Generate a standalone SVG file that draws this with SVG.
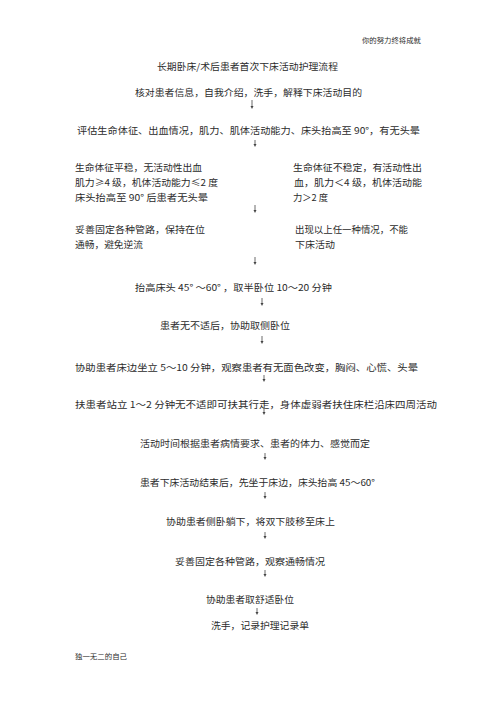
<svg xmlns="http://www.w3.org/2000/svg" width="496" height="702" viewBox="0 0 496 702">
<defs>
<style>
text{font-family:"Noto Sans CJK SC","Liberation Serif",serif;font-size:9.2px;fill:#2b2b2b;}
.small{font-size:7px;}
.arr{stroke:#444;stroke-width:0.8;fill:none;}
.head{fill:#444;}
</style>
</defs>
<rect width="496" height="702" fill="#fff"/>
<g id="header"><text class="small" x="362" y="42.5" textLength="59" lengthAdjust="spacingAndGlyphs">你的努力终将成就</text></g>
<g id="title"><text x="157" y="69.5" textLength="181" lengthAdjust="spacingAndGlyphs">长期卧床/术后患者首次下床活动护理流程</text></g>
<g id="n1"><text x="135" y="95.5" textLength="227" lengthAdjust="spacingAndGlyphs">核对患者信息，自我介绍，洗手，解释下床活动目的</text></g>
<g id="n2"><text x="77" y="133.5" textLength="343" lengthAdjust="spacingAndGlyphs">评估生命体征、出血情况，肌力、肌体活动能力、床头抬高至 90°，有无头晕</text></g>
<g id="n3a">
<text x="75" y="170.5" textLength="127" lengthAdjust="spacingAndGlyphs">生命体征平稳，无活动性出血</text>
<text x="75" y="185.5" textLength="143" lengthAdjust="spacingAndGlyphs">肌力≥4 级，机体活动能力≤2 度</text>
<text x="75" y="200.5" textLength="133" lengthAdjust="spacingAndGlyphs">床头抬高至 90° 后患者无头晕</text>
</g>
<g id="n3b">
<text x="293" y="170.5" textLength="129" lengthAdjust="spacingAndGlyphs">生命体征不稳定，有活动性出</text>
<text x="294" y="185.5" textLength="128" lengthAdjust="spacingAndGlyphs">血，肌力＜4 级，机体活动能</text>
<text x="293" y="200.5" textLength="35" lengthAdjust="spacingAndGlyphs">力＞2 度</text>
</g>
<g id="n4a">
<text x="75" y="232.5" textLength="130" lengthAdjust="spacingAndGlyphs">妥善固定各种管路，保持在位</text>
<text x="75" y="247.5" textLength="68" lengthAdjust="spacingAndGlyphs">通畅，避免逆流</text>
</g>
<g id="n4b">
<text x="295" y="232.5" textLength="113" lengthAdjust="spacingAndGlyphs">出现以上任一种情况，不能</text>
<text x="295" y="247.5" textLength="40" lengthAdjust="spacingAndGlyphs">下床活动</text>
</g>
<g id="n5"><text x="135" y="290.5" textLength="197" lengthAdjust="spacingAndGlyphs">抬高床头 45° ～60° ，取半卧位 10～20 分钟</text></g>
<g id="n6"><text x="160" y="328.5" textLength="130" lengthAdjust="spacingAndGlyphs">患者无不适后，协助取侧卧位</text></g>
<g id="n7"><text x="75" y="370.5" textLength="343" lengthAdjust="spacingAndGlyphs">协助患者床边坐立 5～10 分钟，观察患者有无面色改变，胸闷、心慌、头晕</text></g>
<g id="n8"><text x="75" y="407.5" textLength="362" lengthAdjust="spacingAndGlyphs">扶患者站立 1～2 分钟无不适即可扶其行走，身体虚弱者扶住床栏沿床四周活动</text></g>
<g id="n9"><text x="140" y="446.5" textLength="230" lengthAdjust="spacingAndGlyphs">活动时间根据患者病情要求、患者的体力、感觉而定</text></g>
<g id="n10"><text x="140" y="485.5" textLength="235" lengthAdjust="spacingAndGlyphs">患者下床活动结束后，先坐于床边，床头抬高 45～60°</text></g>
<g id="n11"><text x="166" y="524.5" textLength="169" lengthAdjust="spacingAndGlyphs">协助患者侧卧躺下，将双下肢移至床上</text></g>
<g id="n12"><text x="175" y="564.5" textLength="150" lengthAdjust="spacingAndGlyphs">妥善固定各种管路，观察通畅情况</text></g>
<g id="n13"><text x="206" y="602.5" textLength="88" lengthAdjust="spacingAndGlyphs">协助患者取舒适卧位</text></g>
<g id="n14"><text x="211" y="628.5" textLength="98" lengthAdjust="spacingAndGlyphs">洗手，记录护理记录单</text></g>
<g id="footer"><text class="small" x="75" y="658.5" textLength="52" lengthAdjust="spacingAndGlyphs">独一无二的自己</text></g>
<g id="connectors">
<path class="arr" d="M252 100V106"/><path class="head" d="M250.5 106h3l-1.5 3z"/>
<path class="arr" d="M255 140V144"/><path class="head" d="M253.5 144h3l-1.5 3z"/>
<path class="arr" d="M255 205V210"/><path class="head" d="M253.5 210h3l-1.5 3z"/>
<path class="arr" d="M255 257V262"/><path class="head" d="M253.5 262h3l-1.5 3z"/>
<path class="arr" d="M262 298V303"/><path class="head" d="M260.5 303h3l-1.5 3z"/>
<path class="arr" d="M262 336V341"/><path class="head" d="M260.5 341h3l-1.5 3z"/>
<path class="arr" d="M264 375V379"/><path class="head" d="M262.5 379h3l-1.5 3z"/>
<path class="arr" d="M264 408V412"/><path class="head" d="M262.5 412h3l-1.5 3z"/>
<path class="arr" d="M265 453V457"/><path class="head" d="M263.5 457h3l-1.5 3z"/>
<path class="arr" d="M265 492V496"/><path class="head" d="M263.5 496h3l-1.5 3z"/>
<path class="arr" d="M265 532V536"/><path class="head" d="M263.5 536h3l-1.5 3z"/>
<path class="arr" d="M265 570V574"/><path class="head" d="M263.5 574h3l-1.5 3z"/>
<path class="arr" d="M257 608V612"/><path class="head" d="M255.5 612h3l-1.5 3z"/>
</g>
</svg>
